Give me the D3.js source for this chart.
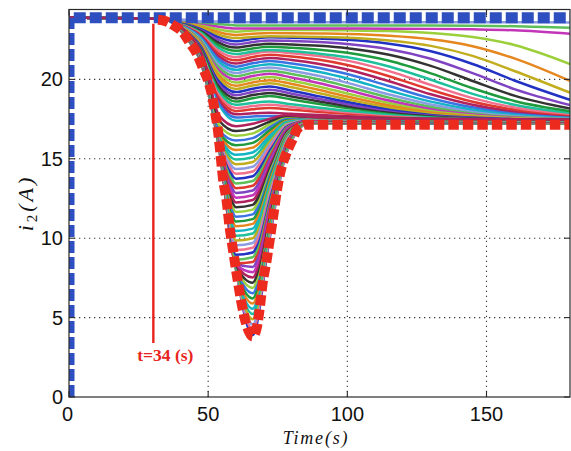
<!DOCTYPE html>
<html><head><meta charset="utf-8">
<script src="https://cdn.jsdelivr.net/npm/d3@7"></script>
<style>body{margin:0;background:#fff}svg{display:block}</style>
</head><body><svg id="c" width="571" height="451"></svg>
<script>
// ---- data ----
const xTicks = [0, 50, 100, 150];
const yTicks = [0, 5, 10, 15, 20];
const startTimes = [0, 34];
const startValues = [23.9, 23.8];
// curves that dip into the V
const dipTimes = [42, 48, 54, 60, 66, 72, 78, 86, 96, 125, 180];
const dipCurves = [
[22.65,20.70,15.50,8.00,3.90,9.90,15.30,17.20,17.20,17.20,17.20],
[22.66,20.72,15.53,8.03,4.23,10.08,15.36,17.21,17.21,17.21,17.21],
[22.67,20.74,15.56,8.06,4.56,10.25,15.41,17.22,17.22,17.22,17.21],
[22.67,20.76,15.59,8.09,4.89,10.43,15.47,17.23,17.23,17.22,17.22],
[22.68,20.77,15.62,8.12,5.22,10.61,15.53,17.24,17.24,17.23,17.23],
[22.69,20.79,15.65,8.15,5.55,10.79,15.59,17.25,17.25,17.24,17.23],
[22.70,20.81,15.68,8.18,5.88,10.96,15.64,17.26,17.25,17.25,17.24],
[22.71,20.83,15.71,8.21,6.21,11.14,15.70,17.27,17.26,17.25,17.25],
[22.72,20.85,15.74,8.24,6.54,11.32,15.76,17.28,17.27,17.26,17.25],
[22.72,20.87,15.77,8.27,6.87,11.49,15.81,17.29,17.28,17.27,17.26],
[22.73,20.89,15.80,8.30,7.20,11.67,15.87,17.31,17.29,17.28,17.27],
[22.74,20.90,15.83,8.33,7.53,11.85,15.93,17.32,17.30,17.28,17.27],
[22.75,20.92,15.86,8.36,7.86,12.02,15.98,17.33,17.31,17.29,17.28],
[22.76,20.94,15.89,8.39,8.19,12.20,16.04,17.34,17.32,17.30,17.29],
[22.76,20.96,15.92,8.42,8.50,12.38,16.10,17.35,17.33,17.31,17.29],
[22.77,20.98,15.95,8.65,8.80,12.56,16.16,17.36,17.34,17.31,17.30],
[22.78,21.00,15.98,8.95,9.10,12.73,16.21,17.37,17.34,17.32,17.31],
[22.79,21.02,16.01,9.25,9.40,12.91,16.27,17.38,17.35,17.33,17.31],
[22.80,21.03,16.04,9.55,9.70,13.09,16.33,17.39,17.36,17.34,17.32],
[22.80,21.05,16.07,9.85,10.00,13.26,16.38,17.40,17.37,17.34,17.33],
[22.81,21.07,16.10,10.15,10.30,13.44,16.44,17.41,17.38,17.35,17.33],
[22.82,21.09,16.13,10.45,10.60,13.62,16.50,17.42,17.39,17.36,17.34],
[22.83,21.11,16.16,10.75,10.90,13.79,16.55,17.43,17.40,17.37,17.35],
[22.84,21.13,16.19,11.05,11.20,13.97,16.61,17.44,17.41,17.37,17.35],
[22.85,21.15,16.22,11.35,11.50,14.15,16.67,17.45,17.42,17.38,17.36],
[22.85,21.17,16.25,11.65,11.80,14.33,16.73,17.46,17.43,17.39,17.37],
[22.86,21.18,16.28,11.95,12.10,14.50,16.78,17.47,17.43,17.40,17.37],
[22.87,21.20,16.31,12.25,12.40,14.68,16.84,17.48,17.44,17.40,17.38],
[22.88,21.22,16.34,12.55,12.70,14.86,16.90,17.49,17.45,17.41,17.38],
[22.89,21.24,16.37,12.85,13.00,15.03,16.95,17.50,17.46,17.42,17.39],
[22.89,21.26,16.40,13.15,13.30,15.21,17.01,17.52,17.47,17.43,17.40],
[22.90,21.28,16.43,13.45,13.60,15.39,17.07,17.53,17.48,17.43,17.40],
[22.91,21.30,16.46,13.75,13.90,15.56,17.12,17.54,17.49,17.44,17.41],
[22.92,21.31,16.49,14.05,14.20,15.74,17.18,17.55,17.50,17.45,17.42],
[22.93,21.33,16.52,14.35,14.50,15.92,17.24,17.56,17.51,17.46,17.42],
[22.93,21.35,16.55,14.65,14.80,16.10,17.30,17.57,17.52,17.46,17.43],
[22.94,21.37,16.58,14.95,15.10,16.27,17.35,17.58,17.52,17.47,17.44],
[22.95,21.39,16.61,15.25,15.40,16.45,17.41,17.59,17.53,17.48,17.44],
[22.96,21.41,16.64,15.55,15.70,16.63,17.47,17.60,17.54,17.49,17.45],
[22.97,21.43,16.67,15.85,16.00,16.80,17.52,17.61,17.55,17.49,17.46],
[22.98,21.44,16.80,16.15,16.30,16.98,17.58,17.62,17.56,17.50,17.46],
[22.98,21.46,17.10,16.45,16.60,17.16,17.64,17.63,17.57,17.51,17.47],
[22.99,21.48,17.40,16.75,16.90,17.33,17.69,17.64,17.58,17.52,17.48],
[23.00,21.50,17.70,17.05,17.20,17.51,17.75,17.65,17.59,17.52,17.48]
];
// curves that stay high and decay slowly
const slowTimes = [42, 48, 54, 60, 66, 72, 80, 90, 100, 115, 130, 145, 160, 180];
const slowCurves = [
[23.00,21.50,18.40,17.40,17.46,17.50,17.55,17.55,17.55,17.55,17.55,17.55,17.55,17.55],
[23.02,21.57,18.57,17.60,17.66,17.70,17.66,17.60,17.57,17.55,17.55,17.55,17.55,17.55],
[23.05,21.64,18.74,17.80,17.86,17.90,17.83,17.75,17.68,17.61,17.58,17.56,17.55,17.55],
[23.07,21.71,18.91,18.00,18.12,18.20,18.09,17.95,17.84,17.72,17.65,17.62,17.61,17.60],
[23.10,21.78,19.08,18.20,18.32,18.40,18.26,18.08,17.93,17.76,17.68,17.64,17.62,17.60],
[23.12,21.85,19.25,18.40,18.52,18.60,18.43,18.22,18.02,17.82,17.70,17.65,17.62,17.60],
[23.15,21.92,19.42,18.60,18.81,18.95,18.73,18.45,18.19,17.91,17.75,17.67,17.63,17.61],
[23.17,21.99,19.59,18.80,19.01,19.15,18.92,18.61,18.31,17.98,17.78,17.68,17.64,17.61],
[23.19,22.05,19.76,19.00,19.21,19.35,19.10,18.77,18.44,18.05,17.82,17.70,17.64,17.61],
[23.22,22.12,19.92,19.20,19.41,19.55,19.29,18.93,18.57,18.13,17.86,17.72,17.65,17.62],
[23.24,22.19,20.09,19.40,19.61,19.75,19.50,19.13,18.74,18.24,17.92,17.75,17.67,17.62],
[23.27,22.26,20.26,19.60,19.81,19.95,19.71,19.33,18.92,18.37,17.99,17.78,17.68,17.63],
[23.29,22.33,20.43,19.80,20.01,20.15,19.91,19.54,19.11,18.51,18.07,17.82,17.70,17.63],
[23.31,22.40,20.60,20.00,20.21,20.35,20.12,19.76,19.33,18.67,18.17,17.88,17.72,17.64],
[23.34,22.47,20.77,20.20,20.41,20.55,20.34,19.99,19.55,18.85,18.28,17.94,17.75,17.65],
[23.36,22.54,20.94,20.40,20.61,20.75,20.55,20.21,19.78,19.05,18.42,18.01,17.79,17.66],
[23.39,22.61,21.11,20.60,20.81,20.95,20.78,20.47,20.06,19.30,18.60,18.11,17.84,17.68],
[23.41,22.68,21.28,20.80,21.01,21.15,21.00,20.72,20.34,19.58,18.81,18.24,17.91,17.71],
[23.44,22.75,21.45,21.00,21.21,21.35,21.22,20.97,20.62,19.88,19.06,18.40,17.99,17.74],
[23.46,22.82,21.62,21.20,21.41,21.55,21.44,21.23,20.90,20.20,19.34,18.59,18.10,17.78],
[23.48,22.89,21.79,21.40,21.61,21.75,21.65,21.47,21.18,20.52,19.65,18.82,18.23,17.83],
[23.51,22.96,21.96,21.60,21.75,21.85,21.77,21.62,21.39,20.81,19.98,19.09,18.40,17.90],
[23.53,23.03,22.13,21.80,21.95,22.05,21.99,21.87,21.67,21.17,20.38,19.44,18.64,18.00],
[23.56,23.10,22.30,22.00,22.15,22.25,22.20,22.11,21.96,21.55,20.85,19.90,18.98,18.16],
[23.58,23.16,22.47,22.20,22.35,22.45,22.42,22.35,22.23,21.90,21.30,20.39,19.39,18.38],
[23.60,23.23,22.64,22.40,22.55,22.65,22.62,22.57,22.49,22.24,21.77,20.97,19.93,18.71],
[23.63,23.30,22.80,22.60,22.67,22.72,22.70,22.67,22.62,22.45,22.11,21.48,20.53,19.16],
[23.65,23.37,22.97,22.80,22.87,22.92,22.91,22.89,22.86,22.75,22.53,22.09,21.32,19.90],
[23.68,23.44,23.14,23.00,23.07,23.12,23.11,23.11,23.09,23.04,22.92,22.67,22.17,20.97],
[23.70,23.51,23.31,23.20,23.20,23.20,23.20,23.20,23.20,23.19,23.18,23.15,23.09,22.88],
[23.73,23.58,23.48,23.40,23.40,23.40,23.40,23.40,23.40,23.40,23.39,23.38,23.35,23.25],
[23.75,23.65,23.65,23.60,23.60,23.60,23.60,23.60,23.60,23.60,23.60,23.60,23.60,23.58]
];
// red dotted lower bound
const lowerTimes  = [32, 34, 38, 41, 43.4, 46, 48, 50, 51.5, 52.5, 53.5, 54.3, 55.3, 56.6, 57.7, 58.8, 60.2, 62, 64, 66, 67.5, 68.6, 69.6, 71, 72.2, 73.3, 74.6, 76, 78, 80.3, 82.2, 85, 100, 140, 180];
const lowerValues = [23.75, 23.7, 23.35, 22.95, 22.3, 21.6, 20.75, 19.9, 18.9, 17.9, 16.8, 15.5, 13.8, 12.4, 10.7, 9.4, 7.8, 5.9, 4.4, 3.8, 4.4, 5.7, 7.2, 8.6, 10.0, 11.3, 12.9, 14.2, 15.3, 16.2, 16.9, 17.15, 17.15, 17.15, 17.15];
// blue dashed upper bound
const upperTimes  = [0, 0, 180];
const upperValues = [0, 23.88, 23.88];
// vertical marker
const markerTime = 30.3, markerTop = 23.5, markerBottom = 3.4;
const markerLabel = "t=34 (s)";
const palette = ["#2233c4","#1f9a3c","#e03a30","#14b4c6","#c235b8","#c2ad1e","#333333","#f0708e",
                 "#3a74e2","#5cbf5a","#e5861e","#8043c2","#1fc09c","#b0215e","#8d9be3","#9bcf3c"];

// ---- chart ----
const svg = d3.select("#c");
const x = d3.scaleLinear().domain([0, 180]).range([69, 570]);
const y = d3.scaleLinear().domain([0, 24.4]).range([397, 9.5]);
const L = 69, R = 570, T = 9.5, B = 397;

svg.append("rect").attr("width", 571).attr("height", 451).attr("fill", "#fff");
svg.append("defs").append("clipPath").attr("id", "clip")
  .append("rect").attr("x", L).attr("y", T).attr("width", R - L).attr("height", B - T);

// grid
const grid = svg.append("g").attr("stroke", "#3a3a3a").attr("stroke-width", 1.1)
  .attr("stroke-dasharray", "1.3,3.7");
grid.selectAll("line.vx").data(xTicks.filter(d => d > 0)).join("line")
  .attr("x1", d => x(d)).attr("x2", d => x(d)).attr("y1", B).attr("y2", T);
grid.selectAll("line.hy").data(yTicks.filter(d => d > 0)).join("line")
  .attr("y1", d => y(d)).attr("y2", d => y(d)).attr("x1", L).attr("x2", R);

const line = d3.line().x(d => x(d[0])).y(d => y(d[1])).curve(d3.curveMonotoneX);
const straight = d3.line().x(d => x(d[0])).y(d => y(d[1]));
const plot = svg.append("g").attr("clip-path", "url(#clip)");

const toPts = (times, row) =>
  startTimes.map((t, k) => [t, startValues[k]]).concat(times.map((t, k) => [t, row[k]]));

const fam = plot.append("g").attr("fill", "none").attr("stroke-width", 2.5);
fam.selectAll("path.s").data(slowCurves).join("path")
  .attr("d", r => line(toPts(slowTimes, r)))
  .attr("stroke", (r, i) => palette[(i * 5 + 3) % palette.length]);
fam.selectAll("path.d").data(dipCurves).join("path")
  .attr("d", r => line(toPts(dipTimes, r)))
  .attr("stroke", (r, i) => palette[(i * 7) % palette.length]);

// blue dashed upper bound
plot.append("path")
  .attr("d", straight(upperTimes.map((t, k) => [t, upperValues[k]])))
  .attr("fill", "none").attr("stroke", "#2d4fbf").attr("stroke-width", 11)
  .attr("stroke-dasharray", "12,4");

// red dotted lower bound
plot.append("path")
  .attr("d", line(lowerTimes.map((t, k) => [t, lowerValues[k]])))
  .attr("fill", "none").attr("stroke", "#ec2a1e").attr("stroke-width", 10)
  .attr("stroke-dasharray", "10.5,4");

// frame
svg.append("rect").attr("x", L).attr("y", T).attr("width", R - L).attr("height", B - T)
  .attr("fill", "none").attr("stroke", "#2a2a2a").attr("stroke-width", 1.2);

// inward ticks
const tk = svg.append("g").attr("stroke", "#2a2a2a").attr("stroke-width", 1.1);
xTicks.forEach(v => {
  tk.append("line").attr("x1", x(v)).attr("x2", x(v)).attr("y1", B).attr("y2", B - 6);
  tk.append("line").attr("x1", x(v)).attr("x2", x(v)).attr("y1", T).attr("y2", T + 6);
});
yTicks.forEach(v => {
  tk.append("line").attr("y1", y(v)).attr("y2", y(v)).attr("x1", L).attr("x2", L + 6);
  tk.append("line").attr("y1", y(v)).attr("y2", y(v)).attr("x1", R).attr("x2", R - 6);
});

// tick labels
const tf = "'Liberation Sans', Arial, Helvetica, sans-serif";
svg.append("g").selectAll("text").data(xTicks).join("text")
  .attr("x", d => x(d) - (d === 0 ? 1.5 : 0)).attr("y", 421)
  .attr("text-anchor", "middle").attr("font-family", tf).attr("font-size", 20).attr("fill", "#111")
  .text(d => d);
svg.append("g").selectAll("text").data(yTicks).join("text")
  .attr("x", 63).attr("y", d => y(d) + 7)
  .attr("text-anchor", "end").attr("font-family", tf).attr("font-size", 20).attr("fill", "#111")
  .text(d => d);

// marker line + label
svg.append("line").attr("x1", x(markerTime)).attr("x2", x(markerTime))
  .attr("y1", y(markerTop)).attr("y2", y(markerBottom))
  .attr("stroke", "#e8231d").attr("stroke-width", 2.4);
svg.append("text").attr("x", x(markerTime) + 12).attr("y", 361)
  .attr("text-anchor", "middle").attr("font-family", "'Liberation Serif', 'Times New Roman', serif")
  .attr("font-weight", "bold").attr("font-size", 17.5).attr("fill", "#e8231d")
  .text(markerLabel);

// axis titles
const sf = "'Liberation Serif', 'DejaVu Serif', serif";
svg.append("text").attr("x", 316).attr("y", 444).attr("text-anchor", "middle")
  .attr("font-family", sf).attr("font-style", "italic").attr("font-size", 18)
  .attr("letter-spacing", 1.8).attr("fill", "#111").text("Time(s)");
const yl = svg.append("text").attr("transform", "translate(33,203) rotate(-90)")
  .attr("text-anchor", "middle").attr("font-family", sf).attr("font-style", "italic")
  .attr("font-size", 22).attr("letter-spacing", 3).attr("fill", "#111");
yl.append("tspan").text("i");
yl.append("tspan").attr("font-size", 15).attr("dy", 4).attr("font-style", "normal").text("2");
yl.append("tspan").attr("dy", -4).text("(A)");
</script>
</body></html>
